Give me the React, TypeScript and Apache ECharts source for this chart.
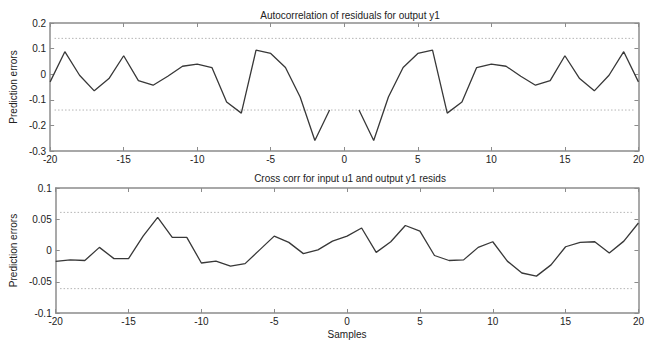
import React, { useEffect, useRef } from "react";
import * as echarts from "echarts";

const lags: number[] = [
  -20, -19, -18, -17, -16, -15, -14, -13, -12, -11, -10, -9, -8, -7, -6, -5, -4, -3, -2, -1, 0,
  1, 2, 3, 4, 5, 6, 7, 8, 9, 10, 11, 12, 13, 14, 15, 16, 17, 18, 19, 20,
];

const autoCorr: (number | null)[] = [
  -0.03, 0.088, -0.004, -0.065, -0.017, 0.072, -0.025, -0.043, -0.008, 0.031, 0.039, 0.026,
  -0.109, -0.152, 0.094, 0.081, 0.026, -0.089, -0.259, -0.14, null,
  -0.14, -0.259, -0.089, 0.026, 0.081, 0.094, -0.152, -0.109, 0.026, 0.039, 0.031, -0.008,
  -0.043, -0.025, 0.072, -0.017, -0.065, -0.004, 0.088, -0.03,
];

const crossCorr: number[] = [
  -0.0175, -0.015, -0.016, 0.005, -0.013, -0.013, 0.023, 0.053, 0.021, 0.021, -0.02, -0.017,
  -0.025, -0.021, 0.001, 0.023, 0.013, -0.005, 0.001, 0.015, 0.023,
  0.036, -0.003, 0.014, 0.04, 0.031, -0.008, -0.016, -0.015, 0.005, 0.014, -0.017, -0.036,
  -0.041, -0.023, 0.006, 0.013, 0.014, -0.004, 0.015, 0.044,
];

const autoConf = 0.14;
const crossConf = 0.061;
const confSpan = [-19.7, 19.7];

const xTicks = { min: -20, max: 20, interval: 5 };
const autoY = { min: -0.3, max: 0.2, interval: 0.1 };
const crossY = { min: -0.1, max: 0.1, interval: 0.05 };

const titles = [
  "Autocorrelation of residuals for output y1",
  "Cross corr for input u1 and output y1 resids",
];
const yName = "Prediction errors";
const xName = "Samples";

const FONT = "Liberation Sans, Arial, sans-serif";
const FRAME = "#8c8c8c";
const LINE = "#383838";

function fmt(v: number) {
  const r = Math.round(v * 1000) / 1000;
  return String(r);
}

export default function App() {
  const ref = useRef<HTMLDivElement>(null);
  useEffect(() => {
    if (!ref.current) return;
    const chart = echarts.init(ref.current, undefined, { renderer: "svg" });

    const grids = [
      { left: 48, right: 5, top: 23, height: 128 },
      { left: 48, right: 5, top: 188, height: 126 },
    ];

    const tick = { show: true, inside: true, length: 4, lineStyle: { color: FRAME, width: 1 } };
    const axisLine = { show: true, onZero: false, lineStyle: { color: FRAME, width: 1.5 } };
    const label = { color: "#222", fontSize: 10, fontFamily: FONT };

    const xAxes: any[] = [];
    const yAxes: any[] = [];
    [0, 1].forEach((g) => {
      xAxes.push({
        type: "value",
        gridIndex: g,
        position: "bottom",
        ...xTicks,
        axisLine,
        axisTick: tick,
        axisLabel: { ...label, margin: 3 },
        splitLine: { show: false },
        name: g === 1 ? xName : "",
        nameLocation: "middle",
        nameGap: 16,
        nameTextStyle: { color: "#222", fontSize: 10, fontFamily: FONT },
      });
      xAxes.push({
        type: "value",
        gridIndex: g,
        position: "top",
        ...xTicks,
        axisLine,
        axisTick: tick,
        axisLabel: { show: false },
        splitLine: { show: false },
      });
      const yr = g === 0 ? autoY : crossY;
      yAxes.push({
        type: "value",
        gridIndex: g,
        position: "left",
        ...yr,
        axisLine,
        axisTick: tick,
        axisLabel: { ...label, margin: 4, formatter: fmt },
        splitLine: { show: false },
        name: yName,
        nameLocation: "middle",
        nameGap: 30,
        nameTextStyle: { color: "#222", fontSize: 10, fontFamily: FONT },
      });
      yAxes.push({
        type: "value",
        gridIndex: g,
        position: "right",
        ...yr,
        axisLine,
        axisTick: tick,
        axisLabel: { show: false },
        splitLine: { show: false },
      });
    });

    const conf = (xi: number, yi: number, v: number) =>
      [v, -v].map((c) => ({
        type: "line",
        xAxisIndex: xi,
        yAxisIndex: yi,
        silent: true,
        symbol: "none",
        data: confSpan.map((x) => [x, c]),
        lineStyle: { color: "#b4b4b4", type: [1.5, 2], width: 1 },
      }));

    chart.setOption({
      animation: false,
      backgroundColor: "#fff",
      title: titles.map((t, i) => ({
        text: t,
        left: 345,
        textAlign: "center",
        top: i === 0 ? 5 : 168,
        textStyle: { fontSize: 10, fontWeight: "normal", color: "#222", fontFamily: FONT },
      })),
      grid: grids,
      xAxis: xAxes,
      yAxis: yAxes,
      series: [
        ...conf(0, 0, autoConf),
        ...conf(2, 2, crossConf),
        {
          type: "line",
          xAxisIndex: 0,
          yAxisIndex: 0,
          data: lags.map((l, i) => [l, autoCorr[i]]),
          connectNulls: false,
          showSymbol: false,
          symbol: "none",
          lineStyle: { color: LINE, width: 1.3 },
        },
        {
          type: "line",
          xAxisIndex: 2,
          yAxisIndex: 2,
          data: lags.map((l, i) => [l, crossCorr[i]]),
          showSymbol: false,
          symbol: "none",
          lineStyle: { color: LINE, width: 1.3 },
        },
      ],
    });
    return () => chart.dispose();
  }, []);
  return <div ref={ref} style={{ width: 647, height: 340, position: "absolute", left: 0, top: 0 }} />;
}
